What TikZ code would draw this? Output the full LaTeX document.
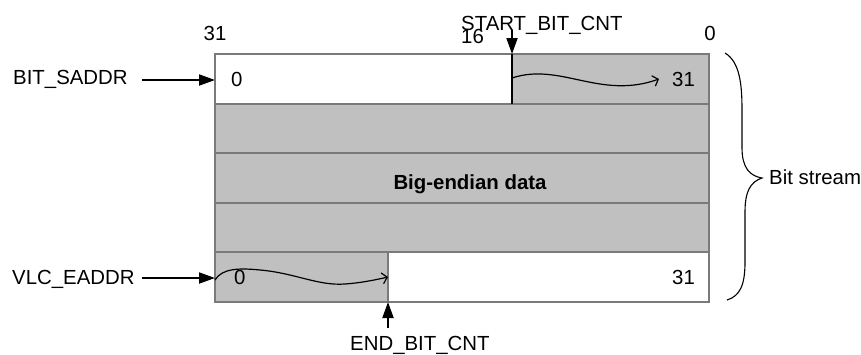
\documentclass[tikz,border=0pt]{standalone}
\usepackage{fontspec}
\setmainfont{Liberation Sans}
\usetikzlibrary{arrows.meta}
\definecolor{cellgray}{HTML}{C0C0C0}
\definecolor{boxline}{HTML}{7A7A7A}
\begin{document}
\begin{tikzpicture}[x=1pt,y=-1pt,
  lbl/.style={inner sep=0pt, font=\fontsize{20.4}{24}\selectfont},
  bold/.style={lbl, font=\fontsize{20.4}{24}\selectfont\bfseries},
  cellline/.style={draw=boxline, line width=1.2pt},
  ptr/.style={line width=1.9pt, -{Triangle[length=16pt,width=11pt]}},
  wave/.style={line width=1.2pt, -{Straight Barb[length=5pt,width=11pt]}}]
\useasboundingbox (0,0) rectangle (861,354);
% cells
\fill[cellgray] (215,54) rectangle (709,302);
\fill[white] (215,54) rectangle (512,104);
\fill[white] (388,252) rectangle (709,302);
\draw[cellline] (215,54) rectangle (709,302);
\foreach \yy in {104,153,203,252} \draw[cellline] (215,\yy) -- (709,\yy);
\draw[cellline] (388,252) -- (388,302);
% coordinates
\coordinate (rowA) at (215,80);
\coordinate (rowE) at (215,278);
\coordinate (startTop) at (512,30);
\coordinate (startHit) at (512,54);
\coordinate (startBot) at (512,104);
\coordinate (endHit) at (388,302);
\coordinate (endLow) at (388,328);
\coordinate (waveAend) at (659,79);
\coordinate (waveEend) at (388,277);
\coordinate (braceTop) at (725,53);
\coordinate (braceTip) at (762,178);
\coordinate (braceBot) at (727,300);
% labels
\node[lbl, anchor=base west] (bsaddr) at (13,84) {BIT\_SADDR};
\node[lbl, anchor=base west] (veaddr) at (12,284) {VLC\_EADDR};
\node[lbl, anchor=base] (n31top) at (215,40) {31};
\node[lbl, anchor=base west] (n16) at (461,43) {16};
\node[lbl, anchor=base west] (sbc) at (461,30) {START\_BIT\_CNT};
\node[lbl, anchor=base] (n0top) at (710,40) {0};
\node[lbl, anchor=base west] (r1zero) at (231,86) {0};
\node[lbl, anchor=base west] (r1end) at (672,86) {31};
\node[lbl, anchor=base west] (r5zero) at (234,284) {0};
\node[lbl, anchor=base west] (r5end) at (672,284) {31};
\node[bold, anchor=base] (bigend) at (470,189) {Big-endian data};
\node[lbl, anchor=base west] (bits) at (769,184) {Bit stream};
\node[lbl, anchor=base west] (ebc) at (350,350) {END\_BIT\_CNT};
% pointers
\draw[ptr] (142,80) -- (rowA);
\draw[ptr] (142,278) -- (rowE);
\draw[ptr] (startTop) -- (startHit);
\draw[line width=2.2pt] (startHit) -- (startBot);
\draw[ptr] (endLow) -- (endHit);
% waves
\draw[wave] (512,78) .. controls (560,62) and (600,100) .. (waveAend);
\draw[wave] (rowE) ++(0,2) .. controls (222,268) and (240,268) .. (260,270)
  .. controls (295,273) and (318,286) .. (345,284)
  .. controls (360,283) and (375,280) .. (waveEend);
% brace
\draw[line width=1.1pt] (braceTop) .. controls (740,62) and (742,85) .. (742,110)
  -- (742,148) .. controls (742,168) and (750,176) .. (braceTip)
  .. controls (750,182) and (745,192) .. (745,212)
  -- (745,262) .. controls (745,285) and (740,296) .. (braceBot);
\end{tikzpicture}
\end{document}
